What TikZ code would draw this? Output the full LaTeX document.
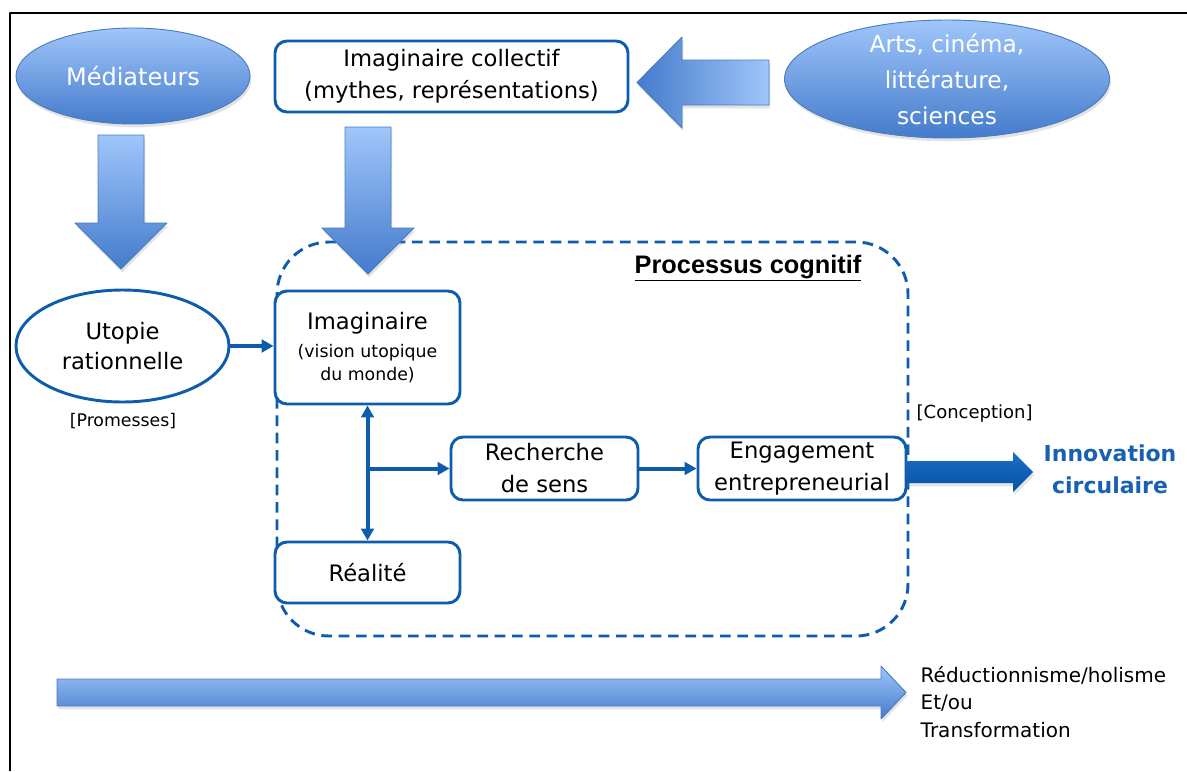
\documentclass[tikz,border=0pt]{standalone}
\usepackage{fontspec}
\setmainfont{DejaVu Sans}
\newfontfamily\arialfont{Liberation Sans}
\usetikzlibrary{shapes.geometric,arrows.meta,shadows}
\definecolor{boxblue}{RGB}{14,93,172}
\definecolor{blobtop}{RGB}{160,198,250}
\definecolor{blobbot}{RGB}{68,123,204}
\definecolor{blobedge}{RGB}{74,124,190}
\definecolor{innovtop}{RGB}{28,110,196}
\definecolor{innovbot}{RGB}{4,82,166}
\definecolor{innovtext}{RGB}{24,96,178}
\tikzset{
	softshadow/.style={drop shadow={opacity=0.22,shadow xshift=1pt,shadow yshift=-2.5pt}},
	box/.style={draw=boxblue,line width=2.2pt,rounded corners=9pt,fill=white,align=center,inner sep=2pt},
	blob/.style={ellipse,draw=blobedge,line width=0.7pt,top color=blobtop,bottom color=blobbot,text=white,align=center,softshadow},
	bigarrow/.style={draw=blobedge,line width=0.7pt,softshadow},
	link/.style={draw=boxblue,line width=3pt},
}
\begin{document}
\begin{tikzpicture}[x=0.75pt,y=-0.75pt,>={Triangle[length=9pt,width=9.5pt]},font=\fontsize{17}{24}\selectfont,line join=round]
		\useasboundingbox (0,0) rectangle (1187,771);
		\draw[line width=2.2pt] (10,771) -- (10,13) -- (1187,13);
		% processus cognitif
		\draw[boxblue,line width=2.2pt,dash pattern=on 8pt off 5pt,rounded corners=39pt] (277,242) rectangle (908,636);
		\node[font=\arialfont\bfseries\fontsize{19}{22}\selectfont] (proctitle) at (748,268) {\underline{Processus cognitif}};
		% haut
		\node[blob,minimum width=175.5pt,minimum height=72pt,font=\fontsize{18}{24}\selectfont] (mediat) at (133,76) {Médiateurs};
		\node[box,minimum width=264.75pt,minimum height=53.25pt] (collec) at (451.5,76.5) {Imaginaire collectif\\(mythes, représentations)};
		\node[blob,minimum width=243.75pt,minimum height=88.5pt,inner ysep=-5pt,font=\fontsize{17.5}{27}\selectfont] (arts) at (947,79) {Arts, cinéma,\\littérature,\\sciences};
		\shade[bigarrow,top color=blobtop,bottom color=blobbot] (98,135) -- (144,135) -- (144,223) -- (167,223) -- (121,269) -- (75,223) -- (98,223) -- cycle;
		\shade[bigarrow,top color=blobtop,bottom color=blobbot] (345,127) -- (391,127) -- (391,228) -- (414,228) -- (368,274) -- (322,228) -- (345,228) -- cycle;
		\shade[bigarrow,left color=blobbot,right color=blobtop] (769,60) -- (682,60) -- (682,37) -- (637,82.5) -- (682,128) -- (682,105) -- (769,105) -- cycle;
		% boites
		\node[ellipse,draw=boxblue,line width=2.2pt,minimum width=159.75pt,minimum height=84pt,align=center,font=\fontsize{17}{23}\selectfont] (utop) at (122.5,346) {Utopie\\rationnelle};
		\node[font=\fontsize{13}{16}\selectfont] (prom) at (123,421) {[Promesses]};
		\node[box,minimum width=138.75pt,minimum height=84.75pt,font=\fontsize{17}{21}\selectfont] (imag) at (367.5,347.5) {Imaginaire\\{\fontsize{13}{16}\selectfont(vision utopique}\\[-4pt]{\fontsize{13}{16}\selectfont du monde)}};
		\node[box,minimum width=138.75pt,minimum height=45.75pt] (real) at (367.5,572.5) {Réalité};
		\node[box,minimum width=140.25pt,minimum height=47.25pt] (rech) at (544.5,468.5) {Recherche\\de sens};
		\node[box,minimum width=156pt,minimum height=47.25pt] (engag) at (802,468.5) {Engagement\\entrepreneurial};
		\draw[link,->] (utop.east) -- (utop.east -| imag.west);
		\draw[link,<->] (imag.south) -- (real.north);
		\draw[link,->] (imag.south |- rech.west) -- (rech.west);
		\draw[link,->] (rech.east) -- (engag.west);
		% sortie
		\node[anchor=west,font=\fontsize{13.5}{16}\selectfont] (concep) at (912,414) {[Conception]};
		\shade[top color=innovtop,bottom color=innovbot,softshadow] (906,461) -- (1013,461) -- (1013,452) -- (1033,472) -- (1013,492) -- (1013,483) -- (906,483) -- cycle;
		\node[font=\bfseries\fontsize{16.5}{24}\selectfont,text=innovtext,align=center] (innov) at (1110,469) {Innovation\\circulaire};
		% bas
		\shade[bigarrow,top color=blobtop,bottom color=blobbot] (57,679) -- (881,679) -- (881,666) -- (906,692.5) -- (881,719) -- (881,706) -- (57,706) -- cycle;
		\node[anchor=west,align=left,font=\fontsize{15}{20.5}\selectfont] (reduc) at (916,702) {Réductionnisme/holisme\\Et/ou\\Transformation};
\end{tikzpicture}
\end{document}
